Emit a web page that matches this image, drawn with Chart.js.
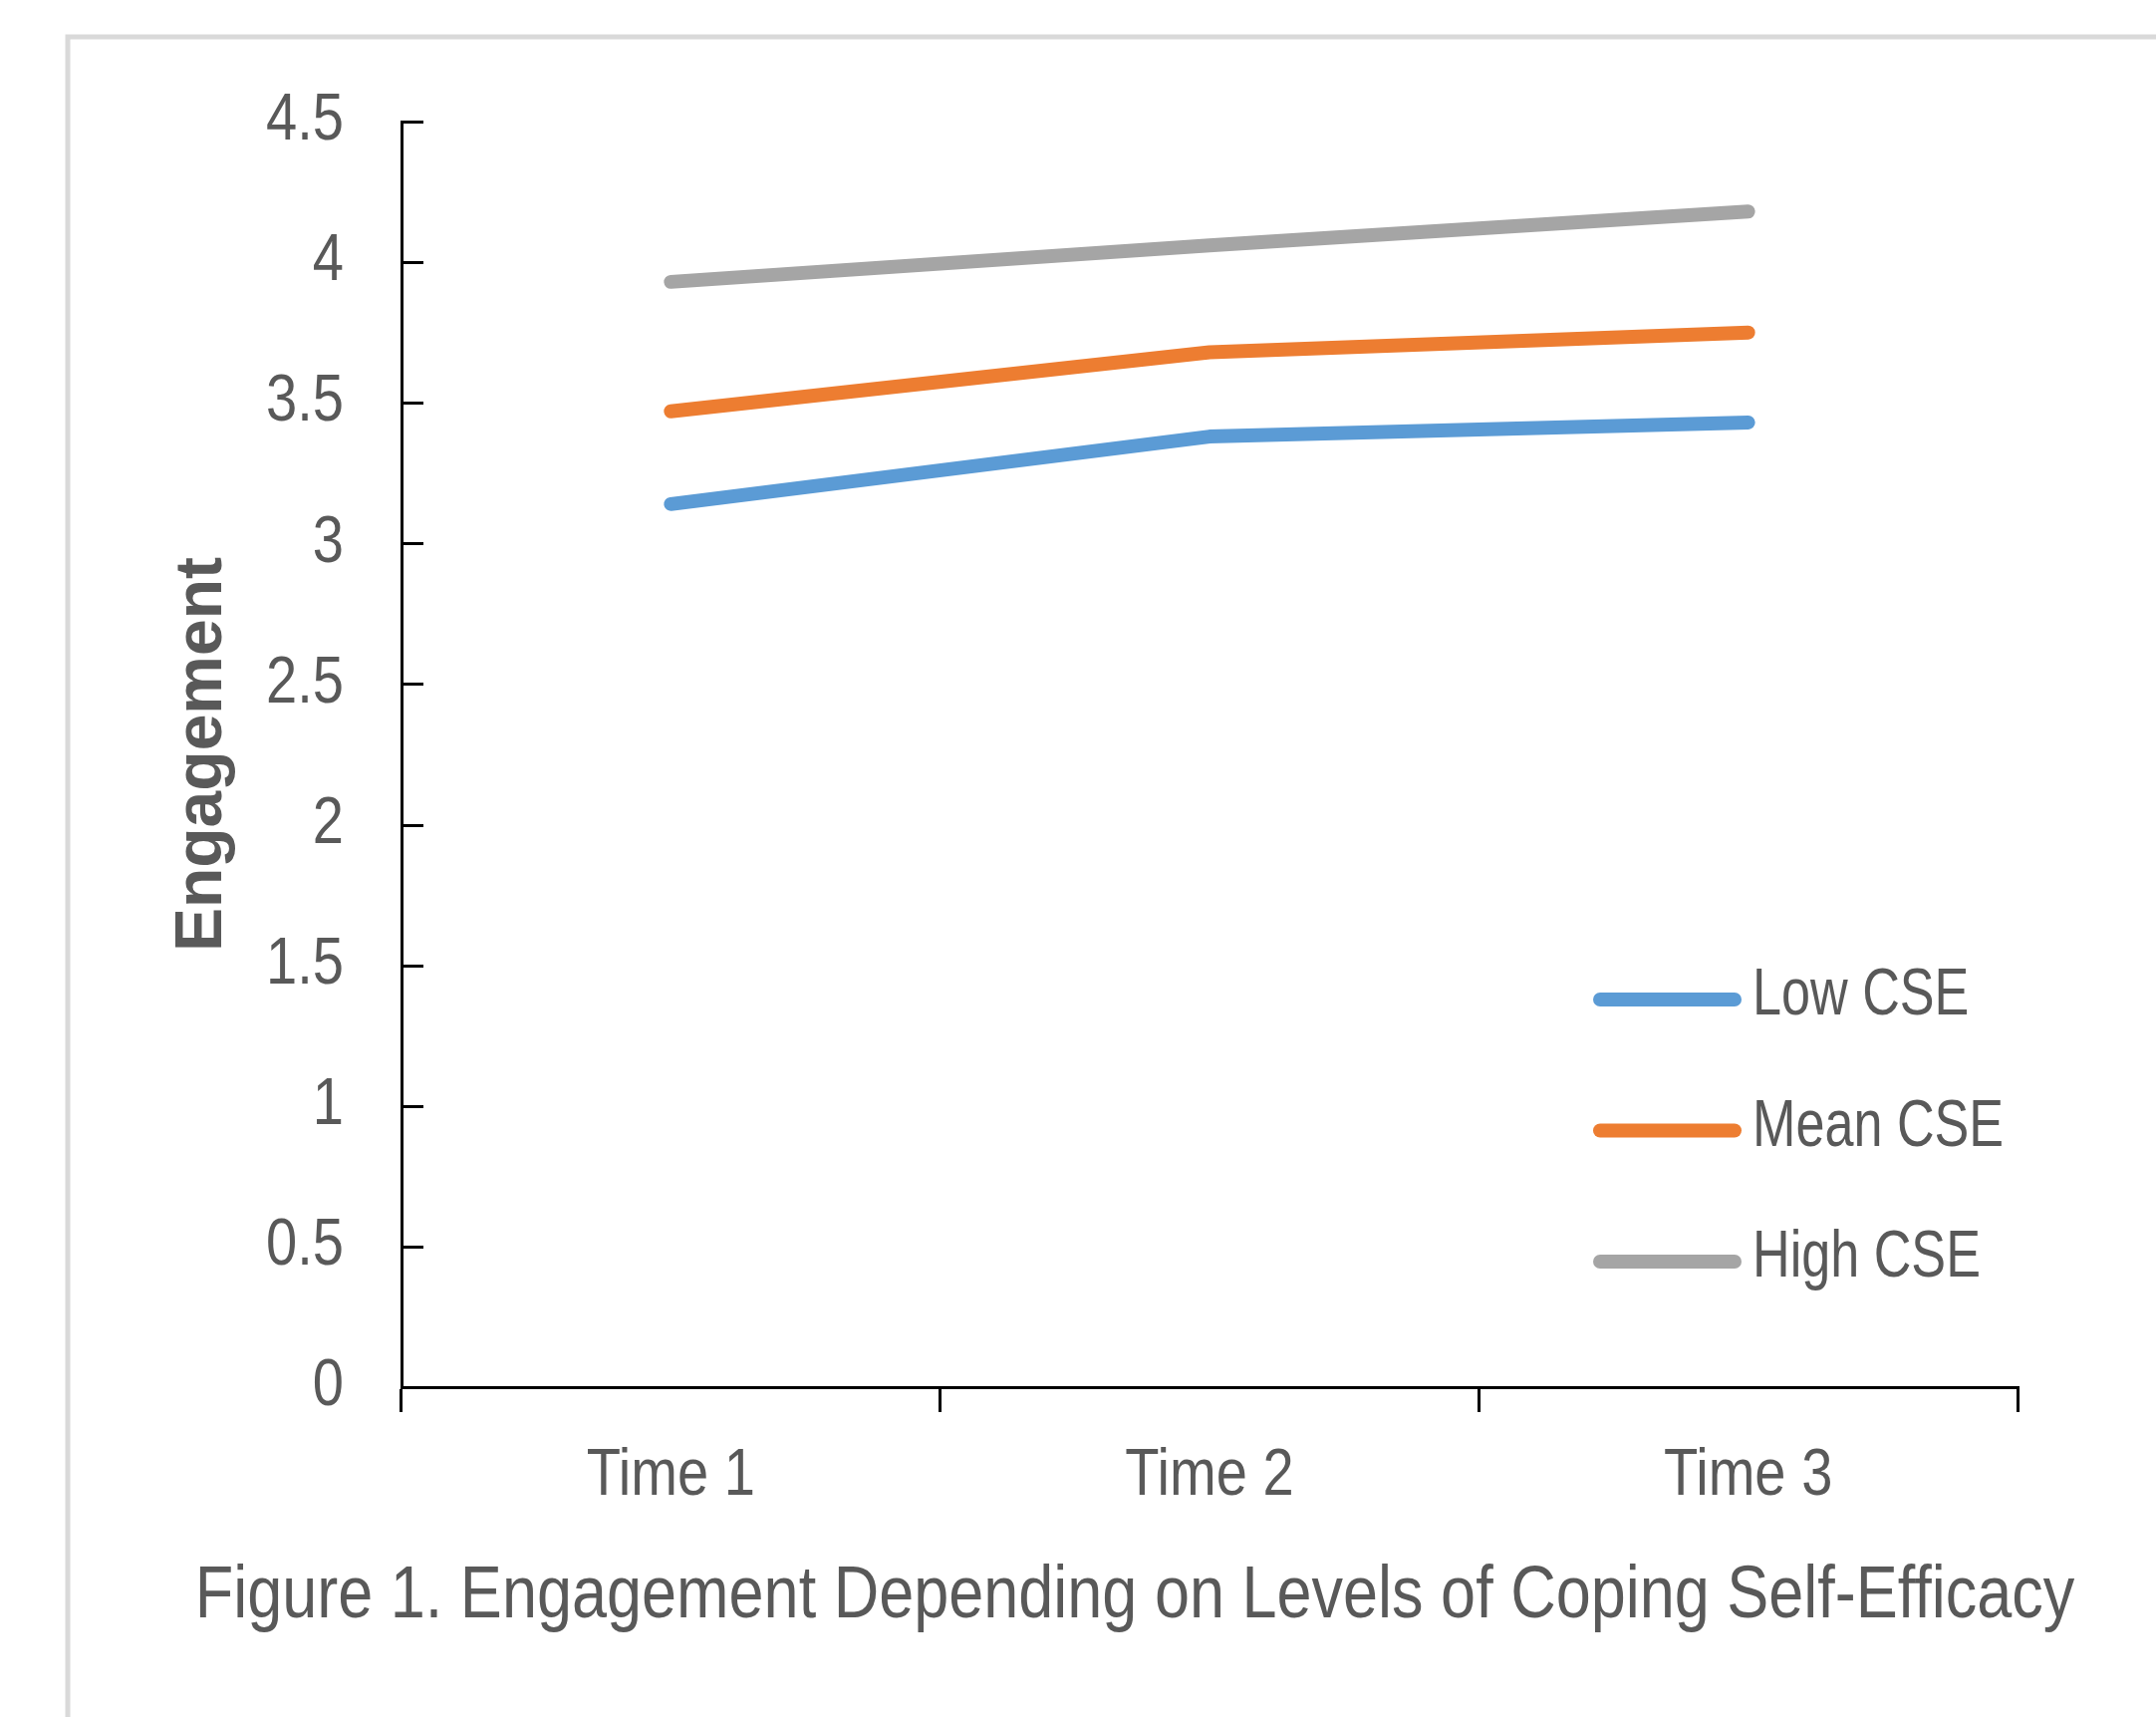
<!DOCTYPE html>
<html>
<head>
<meta charset="utf-8">
<title>Engagement by Coping Self-Efficacy</title>
<script src="https://cdn.jsdelivr.net/npm/chart.js@4.4.1/dist/chart.umd.min.js"></script>
<style>
  html, body { margin: 0; padding: 0; background: #ffffff; overflow: hidden; }
  canvas { display: block; }
</style>
</head>
<body>
<canvas id="chart" width="2164" height="1723"></canvas>
<script>
// ---- data ----
const timePoints = ['Time 1', 'Time 2', 'Time 3'];
const seriesNames = ['Low CSE', 'Mean CSE', 'High CSE'];
const lowCSE  = [3.14, 3.38, 3.43];
const meanCSE = [3.47, 3.68, 3.75];
const highCSE = [3.93, 4.06, 4.18];
const yAxisTitle = 'Engagement';
const yRange = [0, 4.5];
const yStep = 0.5;
const captionText = 'Figure 1. Engagement Depending on Levels of Coping Self-Efficacy';

// ---- styling ----
const seriesColors = ['#5B9BD5', '#ED7D31', '#A5A5A5'];
const textGray = '#595959';
const family = "'Liberation Sans', Arial, sans-serif";
const labelSize = 66;
const narrow = 0.85;        // horizontal squeeze for a condensed look
const legendNarrow = 0.79;
const seriesWidth = 14;

// draw text squeezed horizontally around its anchor point
function fillNarrow(ctx, text, x, y, sx) {
  ctx.save();
  ctx.translate(x, y);
  ctx.scale(sx, 1);
  ctx.fillText(text, 0, 0);
  ctx.restore();
}

// light gray frame around the figure
const framePlugin = {
  id: 'frame',
  beforeDraw(chart) {
    const ctx = chart.ctx;
    ctx.save();
    ctx.fillStyle = '#ffffff';
    ctx.fillRect(0, 0, chart.width, chart.height);
    ctx.strokeStyle = '#d9d9d9';
    ctx.lineWidth = 5;
    ctx.beginPath();
    ctx.moveTo(68, chart.height);
    ctx.lineTo(68, 37);
    ctx.lineTo(chart.width, 37);
    ctx.stroke();
    ctx.restore();
  }
};

// y tick marks point into the plot area; tick labels drawn condensed
const axisLabelsPlugin = {
  id: 'axisLabels',
  afterDraw(chart) {
    const { x, y } = chart.scales;
    const ctx = chart.ctx;
    ctx.save();
    ctx.strokeStyle = '#000000';
    ctx.lineWidth = 3;
    ctx.beginPath();
    y.ticks.forEach(t => {
      const py = Math.round(y.getPixelForValue(t.value)) + 0.5;
      ctx.moveTo(y.right, py);
      ctx.lineTo(y.right + 22, py);
    });
    ctx.stroke();

    ctx.fillStyle = textGray;
    ctx.font = `${labelSize}px ${family}`;
    ctx.textBaseline = 'middle';
    ctx.textAlign = 'right';
    y.ticks.forEach(t => {
      fillNarrow(ctx, t.label, y.right - 58, y.getPixelForValue(t.value), narrow);
    });
    ctx.textAlign = 'center';
    x.ticks.forEach((t, i) => {
      fillNarrow(ctx, t.label, x.getPixelForTick(i), x.top + 90, narrow);
    });
    ctx.restore();
  }
};

// legend drawn inside the plot area, one row per series
const insetLegendPlugin = {
  id: 'insetLegend',
  afterDraw(chart) {
    const ctx = chart.ctx;
    const x0 = 1606, x1 = 1741, textX = 1759;
    const firstRow = 1003, rowGap = 131.5;
    ctx.save();
    chart.data.datasets.forEach((ds, i) => {
      const ry = firstRow + i * rowGap;
      ctx.strokeStyle = ds.borderColor;
      ctx.lineWidth = seriesWidth;
      ctx.lineCap = 'round';
      ctx.beginPath();
      ctx.moveTo(x0, ry);
      ctx.lineTo(x1, ry);
      ctx.stroke();
      ctx.fillStyle = textGray;
      ctx.font = `${labelSize}px ${family}`;
      ctx.textAlign = 'left';
      ctx.textBaseline = 'middle';
      fillNarrow(ctx, ds.label, textX, ry - 3, legendNarrow);
    });
    ctx.restore();
  }
};

// figure caption under the axis
const captionPlugin = {
  id: 'caption',
  afterDraw(chart) {
    const ctx = chart.ctx;
    ctx.save();
    ctx.fillStyle = textGray;
    ctx.font = `75px ${family}`;
    ctx.textAlign = 'center';
    ctx.textBaseline = 'middle';
    fillNarrow(ctx, captionText, 1139, 1602, 0.84);
    ctx.restore();
  }
};

const datasets = [lowCSE, meanCSE, highCSE].map((values, i) => ({
  label: seriesNames[i],
  data: values,
  borderColor: seriesColors[i],
  backgroundColor: seriesColors[i],
  borderWidth: seriesWidth,
  borderCapStyle: 'round',
  borderJoinStyle: 'round',
  pointRadius: 0,
  pointHoverRadius: 0,
  tension: 0,
  fill: false
}));

new Chart(document.getElementById('chart'), {
  type: 'line',
  data: { labels: timePoints, datasets },
  options: {
    responsive: false,
    animation: false,
    devicePixelRatio: 1,
    layout: { padding: { top: 122, right: 139, left: 0, bottom: 131 } },
    plugins: {
      legend: { display: false },
      tooltip: { enabled: false },
      title: { display: false }
    },
    scales: {
      x: {
        type: 'category',
        offset: true,
        afterFit(scale) { scale.height = 200; },
        grid: {
          display: true,
          offset: true,
          drawOnChartArea: false,
          drawTicks: true,
          tickLength: 25,
          color: '#000000',
          lineWidth: 3
        },
        border: { display: true, color: '#000000', width: 3 },
        ticks: { display: false, maxRotation: 0 }
      },
      y: {
        min: yRange[0],
        max: yRange[1],
        afterFit(scale) { scale.width = 403; },
        grid: { display: false, drawTicks: false },
        border: { display: true, color: '#000000', width: 3 },
        ticks: {
          display: false,
          stepSize: yStep,
          callback: (v) => `${v}`
        },
        title: {
          display: true,
          text: yAxisTitle,
          color: textGray,
          padding: { top: 164, bottom: 0 },
          font: { family: family, size: 66, weight: 'bold', lineHeight: 1.2 }
        }
      }
    }
  },
  plugins: [framePlugin, axisLabelsPlugin, insetLegendPlugin, captionPlugin]
});
</script>
</body>
</html>
